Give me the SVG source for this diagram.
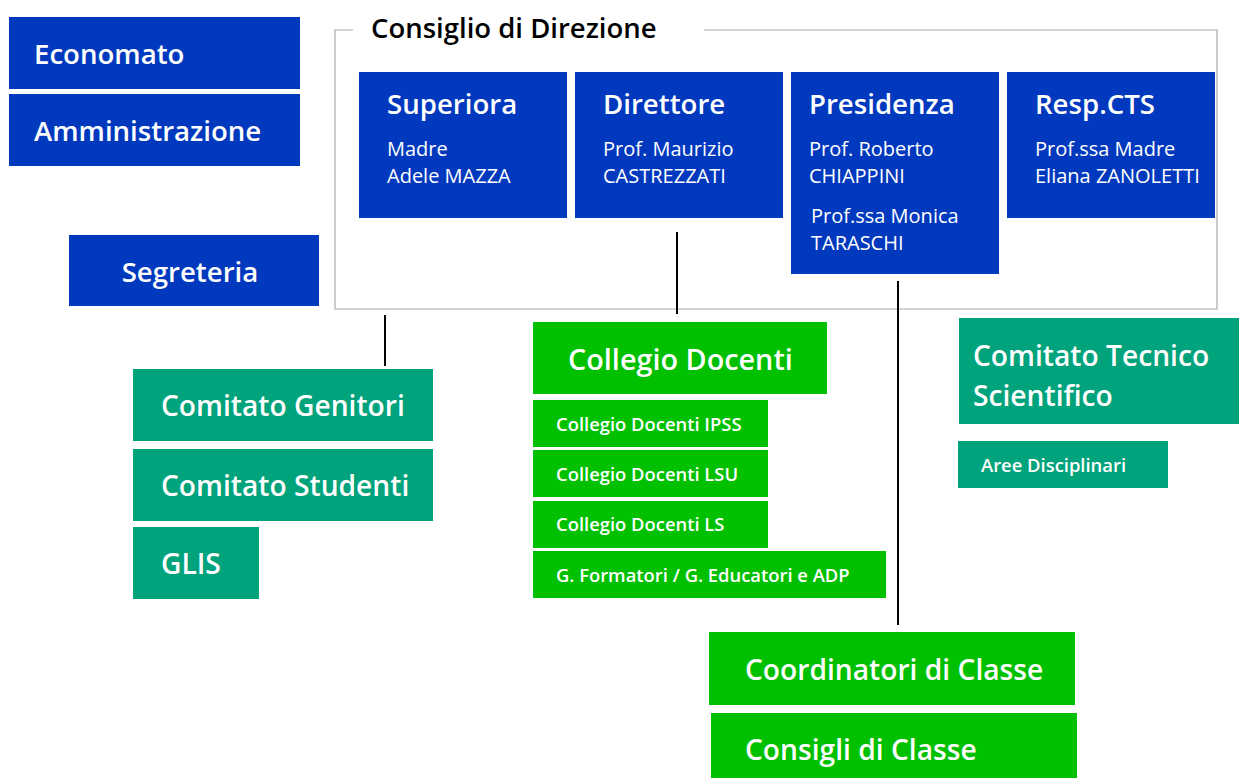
<svg xmlns="http://www.w3.org/2000/svg" width="1239" height="778" viewBox="0 0 1239 778">
<style>
.blue{fill:#0039BE}
.teal{fill:#00A37B}
.green{fill:#00C000}
text{font-family:"Open Sans","Noto Sans",sans-serif;fill:#fff}
.h1{font-size:27.6px;font-weight:600}
.h2{font-size:28.2px;font-weight:600}
.sm{font-size:18.4px;font-weight:600}
.nm{font-size:20px;font-weight:400}
.title{font-size:27.5px;font-weight:600;fill:#000}
.frame{fill:none;stroke:#aaaaaa;stroke-width:1.2}
.conn{stroke:#000;stroke-width:2;fill:none}
</style>
<rect width="1239" height="778" fill="#fff"/>
<g id="economato"><rect class="blue" x="9" y="17" width="291" height="72"/><text class="h1" x="34" y="64">Economato</text></g>
<g id="amministrazione"><rect class="blue" x="9" y="94" width="291" height="72"/><text class="h1" x="34" y="141">Amministrazione</text></g>
<g id="segreteria"><rect class="blue" x="69" y="235" width="250" height="71"/><text class="h1" x="190" y="282" text-anchor="middle">Segreteria</text></g>
<g id="consiglio">
<path class="frame" d="M353,30 H335 V309 H1217 V30 H704"/>
<text class="title" x="371" y="38">Consiglio di Direzione</text>
</g>
<g id="superiora"><rect class="blue" x="359" y="72" width="208" height="146"/><text class="h1" x="387" y="114">Superiora</text><text class="nm" x="387" y="156">Madre</text><text class="nm" x="387" y="183">Adele MAZZA</text></g>
<g id="direttore"><rect class="blue" x="575" y="72" width="208" height="146"/><text class="h1" x="603" y="114">Direttore</text><text class="nm" x="603" y="156">Prof. Maurizio</text><text class="nm" x="603" y="183">CASTREZZATI</text></g>
<g id="presidenza"><rect class="blue" x="791" y="72" width="208" height="202"/><text class="h1" x="809" y="114">Presidenza</text><text class="nm" x="809" y="156">Prof. Roberto</text><text class="nm" x="809" y="183">CHIAPPINI</text><text class="nm" x="811" y="223">Prof.ssa Monica</text><text class="nm" x="811" y="250">TARASCHI</text></g>
<g id="respcts"><rect class="blue" x="1007" y="72" width="208" height="146"/><text class="h1" x="1035" y="114">Resp.CTS</text><text class="nm" x="1035" y="156">Prof.ssa Madre</text><text class="nm" x="1035" y="183">Eliana ZANOLETTI</text></g>
<g id="connectors">
<line class="conn" x1="385" y1="315" x2="385" y2="366"/>
<line class="conn" x1="677" y1="232" x2="677" y2="314"/>
<line class="conn" x1="898" y1="281" x2="898" y2="625"/>
</g>
<g id="comitato-genitori"><rect class="teal" x="133" y="369" width="300" height="72"/><text class="h2" x="161" y="416">Comitato Genitori</text></g>
<g id="comitato-studenti"><rect class="teal" x="133" y="449" width="300" height="72"/><text class="h2" x="161" y="496">Comitato Studenti</text></g>
<g id="glis"><rect class="teal" x="133" y="527" width="126" height="72"/><text class="h2" x="161" y="574">GLIS</text></g>
<g id="collegio-docenti"><rect class="green" x="533" y="322" width="294" height="72"/><text class="h2" x="568" y="370" style="font-size:28.8px">Collegio Docenti</text></g>
<g id="cd-ipss"><rect class="green" x="533" y="400" width="235" height="47"/><text class="sm" x="556" y="431">Collegio Docenti IPSS</text></g>
<g id="cd-lsu"><rect class="green" x="533" y="450" width="235" height="47"/><text class="sm" x="556" y="481">Collegio Docenti LSU</text></g>
<g id="cd-ls"><rect class="green" x="533" y="501" width="235" height="47"/><text class="sm" x="556" y="531">Collegio Docenti LS</text></g>
<g id="g-formatori"><rect class="green" x="533" y="551" width="353" height="47"/><text class="sm" x="556" y="582">G. Formatori / G. Educatori e ADP</text></g>
<g id="coordinatori"><rect class="green" x="709" y="632" width="366" height="73"/><text class="h2" x="745" y="680">Coordinatori di Classe</text></g>
<g id="consigli"><rect class="green" x="711" y="713" width="366" height="70"/><text class="h2" x="745" y="760">Consigli di Classe</text></g>
<g id="cts"><rect class="teal" x="959" y="318" width="280" height="106"/><text class="h2" x="973" y="366">Comitato Tecnico</text><text class="h2" x="973" y="406">Scientifico</text></g>
<g id="aree"><rect class="teal" x="958" y="441" width="210" height="47"/><text class="sm" x="981" y="472">Aree Disciplinari</text></g>
</svg>
